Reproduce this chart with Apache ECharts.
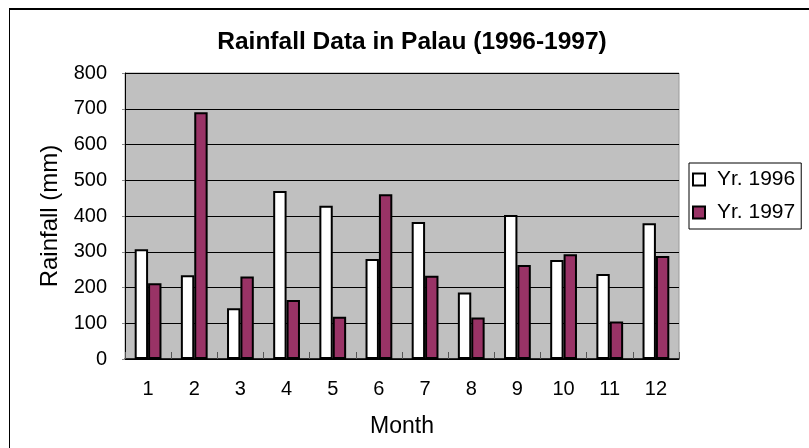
<!DOCTYPE html>
<html>
<head>
<meta charset="utf-8">
<script src="https://cdn.jsdelivr.net/npm/echarts@6/dist/echarts.min.js"></script>
<style>html,body{margin:0;padding:0;background:#fff;}#c{width:809px;height:448px;}</style>
</head>
<body>
<div id="c"></div>
<script>
const months = ['1','2','3','4','5','6','7','8','9','10','11','12'];
const rain1996 = [307, 234, 142, 470, 429, 280, 383, 186, 403, 277, 238, 380];
const rain1997 = [212, 690, 231, 165, 118, 461, 233, 116, 263, 293, 105, 288];
const yTicks = [0, 100, 200, 300, 400, 500, 600, 700, 800];

const FONT = '"Liberation Sans", Arial, sans-serif';
const chart = echarts.init(document.getElementById('c'), null, {renderer: 'canvas'});
chart.setOption({
  animation: false,
  backgroundColor: '#fff',
  title: {
    text: 'Rainfall Data in Palau (1996-1997)',
    left: 407, top: 25, textAlign: 'center',
    textStyle: {fontFamily: FONT, fontSize: 24.5, fontWeight: 'bold', color: '#000'}
  },
  graphic: [
    {type: 'line', shape: {x1: 9, y1: 9, x2: 809, y2: 9}, style: {stroke: '#000', lineWidth: 2}},
    {type: 'line', shape: {x1: 9.5, y1: 9, x2: 9.5, y2: 448}, style: {stroke: '#000', lineWidth: 1}}
  ],
  legend: {
    orient: 'vertical',
    left: 689, top: 163,
    padding: [6, 6, 6, 3],
    itemWidth: 12, itemHeight: 12, itemGap: 12,
    borderColor: '#000', borderWidth: 1,
    backgroundColor: '#fff',
    icon: 'rect',
    itemStyle: {borderColor: '#000', borderWidth: 2},
    textStyle: {fontFamily: FONT, fontSize: 21, color: '#000', padding: [0, 0, 0, 7]},
    data: ['Yr. 1996', 'Yr. 1997']
  },
  grid: {
    left: 125, top: 73, right: 130, bottom: 89,
    show: true, backgroundColor: '#C0C0C0', borderColor: '#9a9a9a', borderWidth: 1
  },
  xAxis: {
    type: 'category',
    data: months,
    name: 'Month', nameLocation: 'middle', nameGap: 56,
    nameTextStyle: {fontFamily: FONT, fontSize: 23, color: '#000'},
    axisLine: {lineStyle: {color: '#000', width: 1.5}},
    axisTick: {show: true, inside: true, length: 7, lineStyle: {color: '#555'}},
    axisLabel: {fontFamily: FONT, fontSize: 20, color: '#000', margin: 20},
    splitLine: {show: false}
  },
  yAxis: {
    type: 'value',
    min: yTicks[0], max: yTicks[yTicks.length - 1], interval: 100,
    name: 'Rainfall (mm)', nameLocation: 'middle', nameGap: 61, nameRotate: 90,
    nameTextStyle: {fontFamily: FONT, fontSize: 24, color: '#000'},
    axisLine: {show: true, lineStyle: {color: '#000', width: 1}},
    axisTick: {show: true, length: 3, lineStyle: {color: '#888'}},
    axisLabel: {fontFamily: FONT, fontSize: 20, color: '#000', margin: 18},
    splitLine: {show: true, lineStyle: {color: '#000', width: 1}}
  },
  series: [
    {
      name: 'Yr. 1996', type: 'bar', data: rain1996,
      barGap: '0%', barCategoryGap: '42%',
      itemStyle: {color: '#FFFFFF', borderColor: '#000', borderWidth: 2}
    },
    {
      name: 'Yr. 1997', type: 'bar', data: rain1997,
      barGap: '0%', barCategoryGap: '42%',
      itemStyle: {color: '#993366', borderColor: '#000', borderWidth: 2}
    }
  ]
});
</script>
</body>
</html>
